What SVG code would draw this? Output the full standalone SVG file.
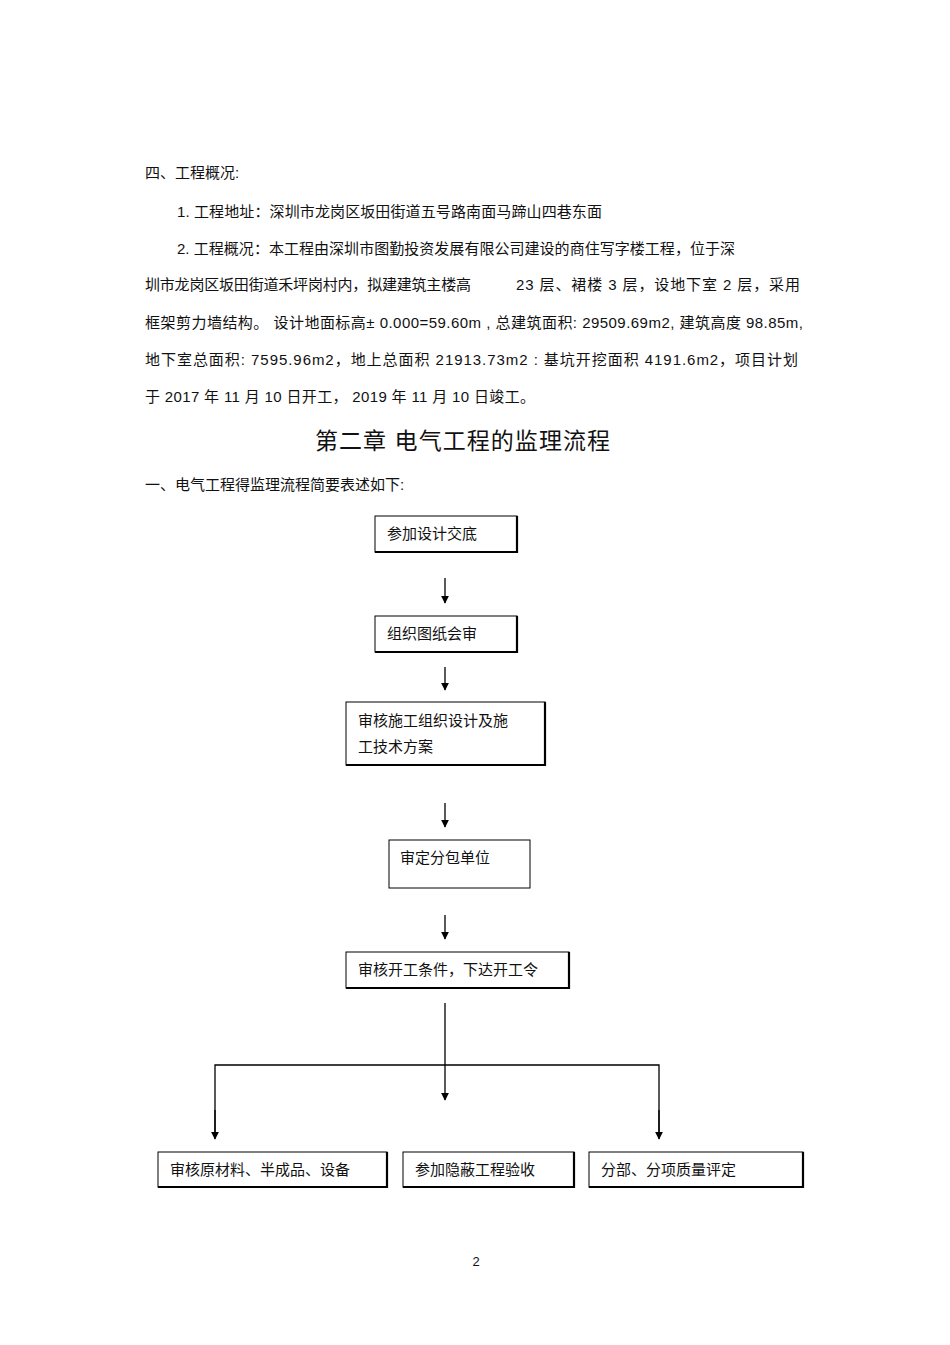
<svg xmlns="http://www.w3.org/2000/svg" width="950" height="1345" viewBox="0 0 950 1345" xml:space="preserve">
<style>
text{font-family:"Liberation Sans","Noto Sans CJK SC",sans-serif;font-size:15px;fill:#111}
.t{font-size:23px}
.b{fill:#fff;stroke:#000;stroke-width:1}
.s{stroke:#000;stroke-width:2.2;fill:none}
.c{stroke:#000;stroke-width:1.3;fill:none}
</style>
<defs><marker id="a" viewBox="0 0 10 10" refX="9" refY="5" markerWidth="8" markerHeight="10" orient="auto" markerUnits="userSpaceOnUse"><path d="M0,0L10,5L0,10z" fill="#000"/></marker></defs>
<rect width="950" height="1345" fill="#fff"/>
<text x="145" y="178">四、工程概况:</text>
<text x="177" y="217" textLength="425" lengthAdjust="spacing">1. 工程地址：深圳市龙岗区坂田街道五号路南面马蹄山四巷东面</text>
<text x="177" y="254" textLength="558" lengthAdjust="spacing">2. 工程概况：本工程由深圳市图勤投资发展有限公司建设的商住写字楼工程，位于深</text>
<text x="145" y="290" textLength="326" lengthAdjust="spacing">圳市龙岗区坂田街道禾坪岗村内，拟建建筑主楼高</text><text x="516" y="290" textLength="284" lengthAdjust="spacing">23 层、裙楼  3 层，设地下室   2 层，采用</text>
<text x="145" y="328" textLength="658" lengthAdjust="spacing">框架剪力墙结构。 设计地面标高±   0.000=59.60m , 总建筑面积:  29509.69m2, 建筑高度  98.85m,</text>
<text x="145" y="365" textLength="653" lengthAdjust="spacing">地下室总面积:     7595.96m2，地上总面积    21913.73m2 : 基坑开挖面积     4191.6m2，项目计划</text>
<text x="145" y="402" textLength="390" lengthAdjust="spacing">于 2017 年 11 月 10 日开工，    2019 年 11 月 10 日竣工。</text>
<text x="315" y="449" class="t" textLength="295" lengthAdjust="spacing">第二章    电气工程的监理流程</text>
<text x="145" y="490">一、电气工程得监理流程简要表述如下:</text>
<g id="connectors">
<path class="c" d="M445,578V603" marker-end="url(#a)"/>
<path class="c" d="M445,667V690" marker-end="url(#a)"/>
<path class="c" d="M445,803V827" marker-end="url(#a)"/>
<path class="c" d="M445,915V939" marker-end="url(#a)"/>
<path class="c" d="M445,1003V1100" marker-end="url(#a)"/>
<path class="c" d="M215,1138V1065H659V1138"/>
<path class="c" d="M215,1110V1139" marker-end="url(#a)"/>
<path class="c" d="M659,1110V1139" marker-end="url(#a)"/>
</g>
<g id="n1"><rect class="b" x="375" y="516" width="142" height="36"/><path class="s" d="M517,516V552H375"/><text x="387" y="539">参加设计交底</text></g>
<g id="n2"><rect class="b" x="375" y="616" width="142" height="36"/><path class="s" d="M517,616V652H375"/><text x="387" y="639">组织图纸会审</text></g>
<g id="n3"><rect class="b" x="346" y="702" width="199" height="63"/><path class="s" d="M545,702V765H346"/><text x="358" y="726">审核施工组织设计及施</text><text x="358" y="752">工技术方案</text></g>
<g id="n4"><rect class="b" x="389" y="840" width="141" height="48"/><text x="400" y="863">审定分包单位</text></g>
<g id="n5"><rect class="b" x="346" y="952" width="223" height="36"/><path class="s" d="M569,952V988H346"/><text x="358" y="975">审核开工条件，下达开工令</text></g>
<g id="n6"><rect class="b" x="158" y="1152" width="229" height="35"/><path class="s" d="M387,1152V1187H158"/><text x="170" y="1175">审核原材料、半成品、设备</text></g>
<g id="n7"><rect class="b" x="403" y="1152" width="171" height="35"/><path class="s" d="M574,1152V1187H403"/><text x="415" y="1175">参加隐蔽工程验收</text></g>
<g id="n8"><rect class="b" x="589" y="1152" width="214" height="35"/><path class="s" d="M803,1152V1187H589"/><text x="601" y="1175">分部、分项质量评定</text></g>
<text x="476" y="1266" text-anchor="middle" style="font-size:13px">2</text>
</svg>
